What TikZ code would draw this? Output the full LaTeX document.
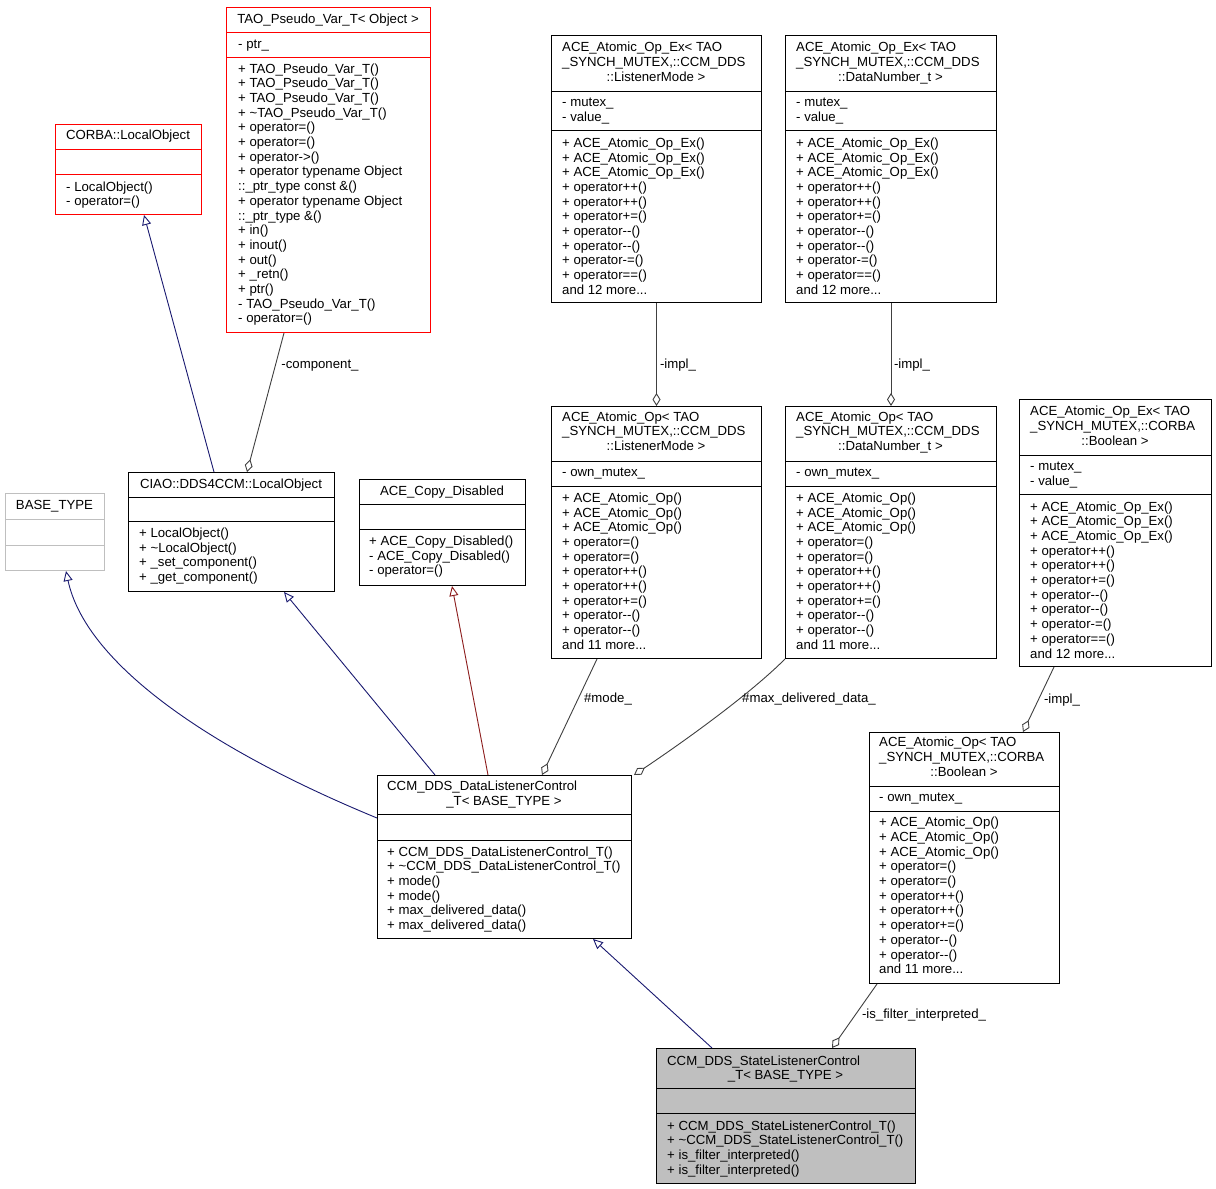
\documentclass[tikz,border=0pt]{standalone}
\usepackage{fontspec}
\setmainfont{Liberation Sans}
\usetikzlibrary{arrows.meta}
\definecolor{edgenavy}{HTML}{191970}
\definecolor{edgered}{HTML}{8B1A1A}
\definecolor{edgegray}{HTML}{404040}
\definecolor{grey75}{HTML}{BFBFBF}
\definecolor{boxred}{HTML}{FF0000}
\newcommand\LL[1]{\begin{tabular}[t]{@{}l@{}}#1\end{tabular}}
\newcommand\umlbox[8]{%
  \node[box,#1,minimum width={#5-#3},minimum height={#6-#4}] (#2) at (#3,#4) {};
  \draw[#1] (#2.west |- 0,#7) -- (#2.east |- 0,#7);
  \draw[#1] (#2.west |- 0,#8) -- (#2.east |- 0,#8);}
\newcommand\aexmethods{+ ACE\_Atomic\_Op\_Ex()\\+ ACE\_Atomic\_Op\_Ex()\\+ ACE\_Atomic\_Op\_Ex()\\+ operator++()\\+ operator++()\\+ operator+=()\\+ operator-{}-()\\+ operator-{}-()\\+ operator-=()\\+ operator==()\\and 12 more...}
\newcommand\aopmethods{+ ACE\_Atomic\_Op()\\+ ACE\_Atomic\_Op()\\+ ACE\_Atomic\_Op()\\+ operator=()\\+ operator=()\\+ operator++()\\+ operator++()\\+ operator+=()\\+ operator-{}-()\\+ operator-{}-()\\and 11 more...}
\tikzset{
  box/.style={draw, inner sep=0pt, anchor=north west, line width=1pt},
  txt/.style={inner sep=0pt, anchor=base west},
  ctr/.style={inner sep=0pt, anchor=base},
  lbl/.style={inner sep=0pt, anchor=base},
  inh/.style={draw=edgenavy, line width=0.9pt, -{Triangle[open, length=10pt, width=9pt]}},
  inhr/.style={draw=edgered, line width=0.9pt, -{Triangle[open, length=10pt, width=9pt]}},
  agg/.style={draw=edgegray, line width=0.9pt, -{Diamond[open, length=13pt, width=8pt]}},
}
\begin{document}
\begin{tikzpicture}[x=1pt, y=-1pt, font=\fontsize{13.2}{14.7}\selectfont]
\fill[white] (0,0) rectangle (1216,1189);
\useasboundingbox (0,0) rectangle (1216,1189);

% TAO_Pseudo_Var_T
\umlbox{draw=boxred}{tao}{226}{7}{430}{332}{32}{57}
\node[ctr] (tao-t) at (328,23) {TAO\_Pseudo\_Var\_T< Object >};
\node[txt] (tao-a) at (238,48) {- ptr\_};
\node[txt] (tao-m) at (238,73) {\LL{+ TAO\_Pseudo\_Var\_T()\\+ TAO\_Pseudo\_Var\_T()\\+ TAO\_Pseudo\_Var\_T()\\+ \textasciitilde TAO\_Pseudo\_Var\_T()\\+ operator=()\\+ operator=()\\+ operator->()\\+ operator typename Object\\::\_ptr\_type const \&()\\+ operator typename Object\\::\_ptr\_type \&()\\+ in()\\+ inout()\\+ out()\\+ \_retn()\\+ ptr()\\- TAO\_Pseudo\_Var\_T()\\- operator=()}};

% CORBA::LocalObject
\umlbox{draw=boxred}{corba}{55}{124}{201}{214}{149}{174}
\node[ctr] (corba-t) at (128,139.5) {CORBA::LocalObject};
\node[txt] (corba-m) at (66,191) {\LL{- LocalObject()\\- operator=()}};

% BASE_TYPE
\umlbox{draw=grey75}{base}{5}{493}{104}{570}{519}{545}
\node[ctr] (base-t) at (54.5,509.5) {BASE\_TYPE};

% CIAO::DDS4CCM::LocalObject
\umlbox{draw=black}{ciao}{128}{472}{334}{591}{497}{521}
\node[ctr] (ciao-t) at (231,488) {CIAO::DDS4CCM::LocalObject};
\node[txt] (ciao-m) at (139,537.5) {\LL{+ LocalObject()\\+ \textasciitilde LocalObject()\\+ \_set\_component()\\+ \_get\_component()}};

% ACE_Copy_Disabled
\umlbox{draw=black}{copy}{359}{479}{525}{585}{504}{529}
\node[ctr] (copy-t) at (442,495) {ACE\_Copy\_Disabled};
\node[txt] (copy-m) at (369,545.5) {\LL{+ ACE\_Copy\_Disabled()\\- ACE\_Copy\_Disabled()\\- operator=()}};

% ACE_Atomic_Op_Ex ListenerMode
\umlbox{draw=black}{aexlm}{551}{35}{761}{302}{91}{130}
\node[txt] (aexlm-t) at (562,51.7) {\LL{ACE\_Atomic\_Op\_Ex< TAO\\\_SYNCH\_MUTEX,::CCM\_DDS}};
\node[ctr] (aexlm-t3) at (656,81.1) {::ListenerMode >};
\node[txt] (aexlm-a) at (562,106.7) {\LL{- mutex\_\\- value\_}};
\node[txt] (aexlm-m) at (562,147.3) {\LL{\aexmethods}};

% ACE_Atomic_Op_Ex DataNumber
\umlbox{draw=black}{aexdn}{785}{35}{996}{302}{91}{130}
\node[txt] (aexdn-t) at (796,51.7) {\LL{ACE\_Atomic\_Op\_Ex< TAO\\\_SYNCH\_MUTEX,::CCM\_DDS}};
\node[ctr] (aexdn-t3) at (890.5,81.1) {::DataNumber\_t >};
\node[txt] (aexdn-a) at (796,106.7) {\LL{- mutex\_\\- value\_}};
\node[txt] (aexdn-m) at (796,147.3) {\LL{\aexmethods}};

% ACE_Atomic_Op ListenerMode
\umlbox{draw=black}{aoplm}{551}{406}{761}{658}{461}{486}
\node[txt] (aoplm-t) at (562,421) {\LL{ACE\_Atomic\_Op< TAO\\\_SYNCH\_MUTEX,::CCM\_DDS}};
\node[ctr] (aoplm-t3) at (656,450.4) {::ListenerMode >};
\node[txt] (aoplm-a) at (562,476.7) {- own\_mutex\_};
\node[txt] (aoplm-m) at (562,502.3) {\LL{\aopmethods}};

% ACE_Atomic_Op DataNumber
\umlbox{draw=black}{aopdn}{785}{406}{996}{658}{461}{486}
\node[txt] (aopdn-t) at (796,421) {\LL{ACE\_Atomic\_Op< TAO\\\_SYNCH\_MUTEX,::CCM\_DDS}};
\node[ctr] (aopdn-t3) at (890.5,450.4) {::DataNumber\_t >};
\node[txt] (aopdn-a) at (796,476.7) {- own\_mutex\_};
\node[txt] (aopdn-m) at (796,502.3) {\LL{\aopmethods}};

% ACE_Atomic_Op_Ex Boolean
\umlbox{draw=black}{aexb}{1019}{399}{1211}{666}{455}{494}
\node[txt] (aexb-t) at (1030,415.7) {\LL{ACE\_Atomic\_Op\_Ex< TAO\\\_SYNCH\_MUTEX,::CORBA}};
\node[ctr] (aexb-t3) at (1115,445.1) {::Boolean >};
\node[txt] (aexb-a) at (1030,470.7) {\LL{- mutex\_\\- value\_}};
\node[txt] (aexb-m) at (1030,511) {\LL{\aexmethods}};

% ACE_Atomic_Op Boolean
\umlbox{draw=black}{aopb}{869}{732}{1059}{983}{786}{811}
\node[txt] (aopb-t) at (879,746.7) {\LL{ACE\_Atomic\_Op< TAO\\\_SYNCH\_MUTEX,::CORBA}};
\node[ctr] (aopb-t3) at (964,776.1) {::Boolean >};
\node[txt] (aopb-a) at (879,801.7) {- own\_mutex\_};
\node[txt] (aopb-m) at (879,826.7) {\LL{\aopmethods}};

% CCM_DDS_DataListenerControl_T
\umlbox{draw=black}{dlc}{377}{775}{631}{938}{814}{840}
\node[txt] (dlc-t) at (387,790.7) {CCM\_DDS\_DataListenerControl};
\node[ctr] (dlc-t2) at (504,805.4) {\_T< BASE\_TYPE >};
\node[txt] (dlc-m) at (387,856) {\LL{+ CCM\_DDS\_DataListenerControl\_T()\\+ \textasciitilde CCM\_DDS\_DataListenerControl\_T()\\+ mode()\\+ mode()\\+ max\_delivered\_data()\\+ max\_delivered\_data()}};

% CCM_DDS_StateListenerControl_T
\umlbox{draw=black,fill=grey75}{slc}{656}{1048}{915}{1183}{1088}{1113}
\node[txt] (slc-t) at (667,1065) {CCM\_DDS\_StateListenerControl};
\node[ctr] (slc-t2) at (785.5,1079.7) {\_T< BASE\_TYPE >};
\node[txt] (slc-m) at (667,1130) {\LL{+ CCM\_DDS\_StateListenerControl\_T()\\+ \textasciitilde CCM\_DDS\_StateListenerControl\_T()\\+ is\_filter\_interpreted()\\+ is\_filter\_interpreted()}};

% ---- connectors ----
\draw[inh] ([xshift=86pt]ciao.north west) -- ([xshift=89pt]corba.south west);
\draw[agg] ([xshift=58pt]tao.south west) -- ([xshift=119pt]ciao.north west);
\node[lbl] (l-comp) at (320,368) {-component\_};
\draw[inh] ([yshift=-43pt]dlc.north west) .. controls (200,745) and (85,660) .. ([xshift=61pt]base.south west);
\draw[inh] ([xshift=58pt]dlc.north west) -- ([xshift=156pt]ciao.south west);
\draw[inhr] ([xshift=111pt]dlc.north west) -- ([xshift=93pt]copy.south west);
\draw[agg] ([xshift=46pt]aoplm.south west) -- ([xshift=165pt]dlc.north west);
\node[lbl] (l-mode) at (608,702) {\#mode\_};
\draw[agg] (aopdn.south west) .. controls (751,693) and (689,738) .. ([xshift=257pt]dlc.north west);
\node[lbl] (l-maxd) at (809,702) {\#max\_delivered\_data\_};
\draw[agg] (aexlm.south) -- (aoplm.north);
\node[lbl] (l-impl1) at (678,368) {-impl\_};
\draw[agg] (aexdn.south) -- (aopdn.north);
\node[lbl] (l-impl2) at (912,368) {-impl\_};
\draw[agg] ([xshift=35pt]aexb.south west) -- ([xshift=154pt]aopb.north west);
\node[lbl] (l-impl3) at (1062,703) {-impl\_};
\draw[agg] ([xshift=8pt]aopb.south west) -- ([xshift=176pt]slc.north west);
\node[lbl] (l-isf) at (924,1018) {-is\_filter\_interpreted\_};
\draw[inh] ([xshift=56pt]slc.north west) -- ([xshift=216pt]dlc.south west);
\end{tikzpicture}
\end{document}
